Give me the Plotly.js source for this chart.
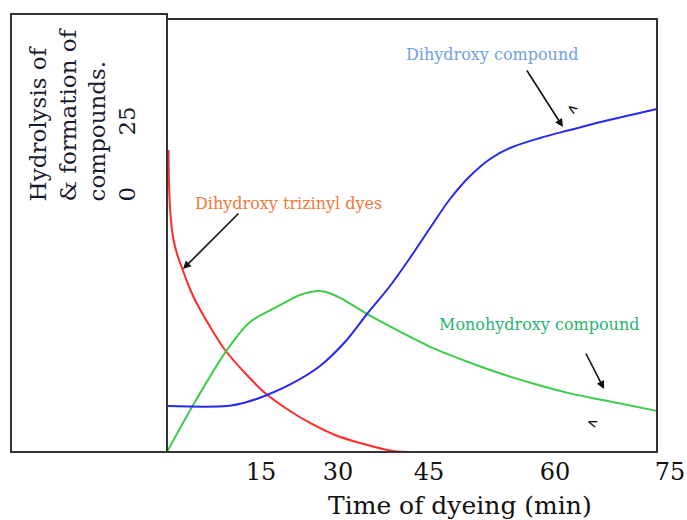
<!DOCTYPE html>
<html>
<head>
<meta charset="utf-8">
<script src="https://cdn.plot.ly/plotly-3.0.1.min.js"></script>
<style>html,body{margin:0;padding:0;background:#fff;}#chart{width:687px;height:520px;}</style>
</head>
<body>
<div id="chart"></div>
<script>
// Time of dyeing (min) and relative amounts
const redX = [0.23, 0.31, 0.54, 0.92, 1.53, 2.30, 3.21, 4.29, 6.89, 8.88, 11.94, 15.0, 18.83, 21.89, 25.71, 29.54, 34.59, 38.4];
const redY = [69.75, 61.66, 54.73, 49.65, 45.73, 42.49, 38.8, 35.1, 28.18, 23.56, 18.24, 13.63, 9.47, 6.7, 3.93, 2.08, 0.23, 0];

const greenX = [0, 3.83, 8.88, 12.7, 16.8, 20.4, 23.0, 24.2, 26.5, 30.6, 35.8, 41.0, 46.1, 51.3, 56.3, 61.5, 66.7, 75];
const greenY = [0, 10.4, 22.9, 30.0, 33.5, 36.3, 37.2, 37.0, 35.6, 31.9, 27.7, 23.8, 20.8, 18.0, 15.7, 13.6, 12.0, 9.5];

const blueX = [0, 9.18, 12.24, 15.31, 19.29, 23.42, 27.24, 30.61, 34.13, 37.19, 40.26, 43.32, 46.39, 49.45, 52.51, 57.09, 61.68, 67.04, 75];
const blueY = [10.62, 10.62, 11.55, 13.16, 15.94, 19.86, 25.4, 31.87, 38.34, 44.8, 51.73, 58.43, 63.74, 67.67, 70.21, 72.52, 74.36, 76.44, 79.21];

const tickVals = [14.39, 26.17, 40.10, 59.39, 76.99];
const tickText = ['15', '30', '45', '60', '75'];

const serif = 'DejaVu Serif';
const line = (x, y, c, s) => ({x: x, y: y, type: 'scatter', mode: 'lines',
  line: {color: c, width: 2, shape: 'spline', smoothing: s}, hoverinfo: 'skip'});

const data = [
  line(redX, redY, '#ff2a2a', 0.8),
  line(greenX, greenY, '#3ccc4a', 0.9),
  line(blueX, blueY, '#2828f0', 0.9)
];

const nb = '\u00A0';
const layout = {
  width: 687, height: 520,
  margin: {l: 167, r: 10, t: 19, b: 68, pad: 0},
  paper_bgcolor: '#fff', plot_bgcolor: '#fff',
  showlegend: false,
  font: {family: serif, color: '#111'},
  xaxis: {range: [0, 78.06], showgrid: false, zeroline: false, showline: false, ticks: '',
    ticklabelstandoff: 3,
    tickvals: tickVals, ticktext: tickText, tickfont: {family: serif, size: 24, color: '#111'}, fixedrange: true},
  yaxis: {range: [0, 100], visible: false, fixedrange: true},
  shapes: [
    {type: 'rect', xref: 'x', yref: 'paper', x0: 0, x1: 75, y0: 0, y1: 1, line: {color: '#333', width: 2}},
    {type: 'rect', xref: 'paper', yref: 'paper', x0: -0.3059, x1: 0, y0: 0, y1: 1.0116, line: {color: '#333', width: 2}}
  ],
  annotations: [
    {xref: 'paper', yref: 'paper', x: -0.1647, y: 0.573, xanchor: 'center', yanchor: 'bottom',
      textangle: -90, align: 'left', showarrow: false,
      text: 'Hydrolysis of<br>&amp; formation of<br>compounds.<br>0' + nb.repeat(7) + '25',
      font: {family: serif, size: 23, color: '#1a1a2e'}},
    {xref: 'paper', yref: 'paper', x: 0.5745, y: -0.1247, xanchor: 'center', yanchor: 'middle',
      showarrow: false, text: 'Time of dyeing (min)', font: {family: serif, size: 25, color: '#111'}},
    {x: 49.8, y: 91.9, showarrow: false, text: 'Dihydroxy compound', font: {family: serif, size: 16, color: '#6f9fe8'}},
    {x: 60.6, y: 75.06, ax: -37, ay: -58, text: '', showarrow: true, arrowhead: 2, arrowsize: 1, arrowwidth: 1.6, arrowcolor: '#111', standoff: 0},
    {x: 18.6, y: 57.5, showarrow: false, text: 'Dihydroxy trizinyl dyes', font: {family: serif, size: 16, color: '#f07838'}},
    {x: 2.45, y: 42.26, ax: 57, ay: -57, text: '', showarrow: true, arrowhead: 2, arrowsize: 1, arrowwidth: 1.6, arrowcolor: '#111', standoff: 0},
    {x: 57.0, y: 29.56, showarrow: false, text: 'Monohydroxy compound', font: {family: serif, size: 16, color: '#26b56e'}},
    {x: 66.9, y: 14.55, ax: -19, ay: -37, text: '', showarrow: true, arrowhead: 2, arrowsize: 1, arrowwidth: 1.6, arrowcolor: '#111', standoff: 0},
    {x: 62.0, y: 79.3, showarrow: false, text: '<b>&lt;</b>', textangle: 35, font: {family: serif, size: 13, color: '#111'}},
    {x: 65.1, y: 6.8, showarrow: false, text: '<b>&lt;</b>', textangle: 20, font: {family: serif, size: 13, color: '#111'}}
  ]
};

Plotly.newPlot('chart', data, layout, {displayModeBar: false, staticPlot: true});
</script>
</body>
</html>
